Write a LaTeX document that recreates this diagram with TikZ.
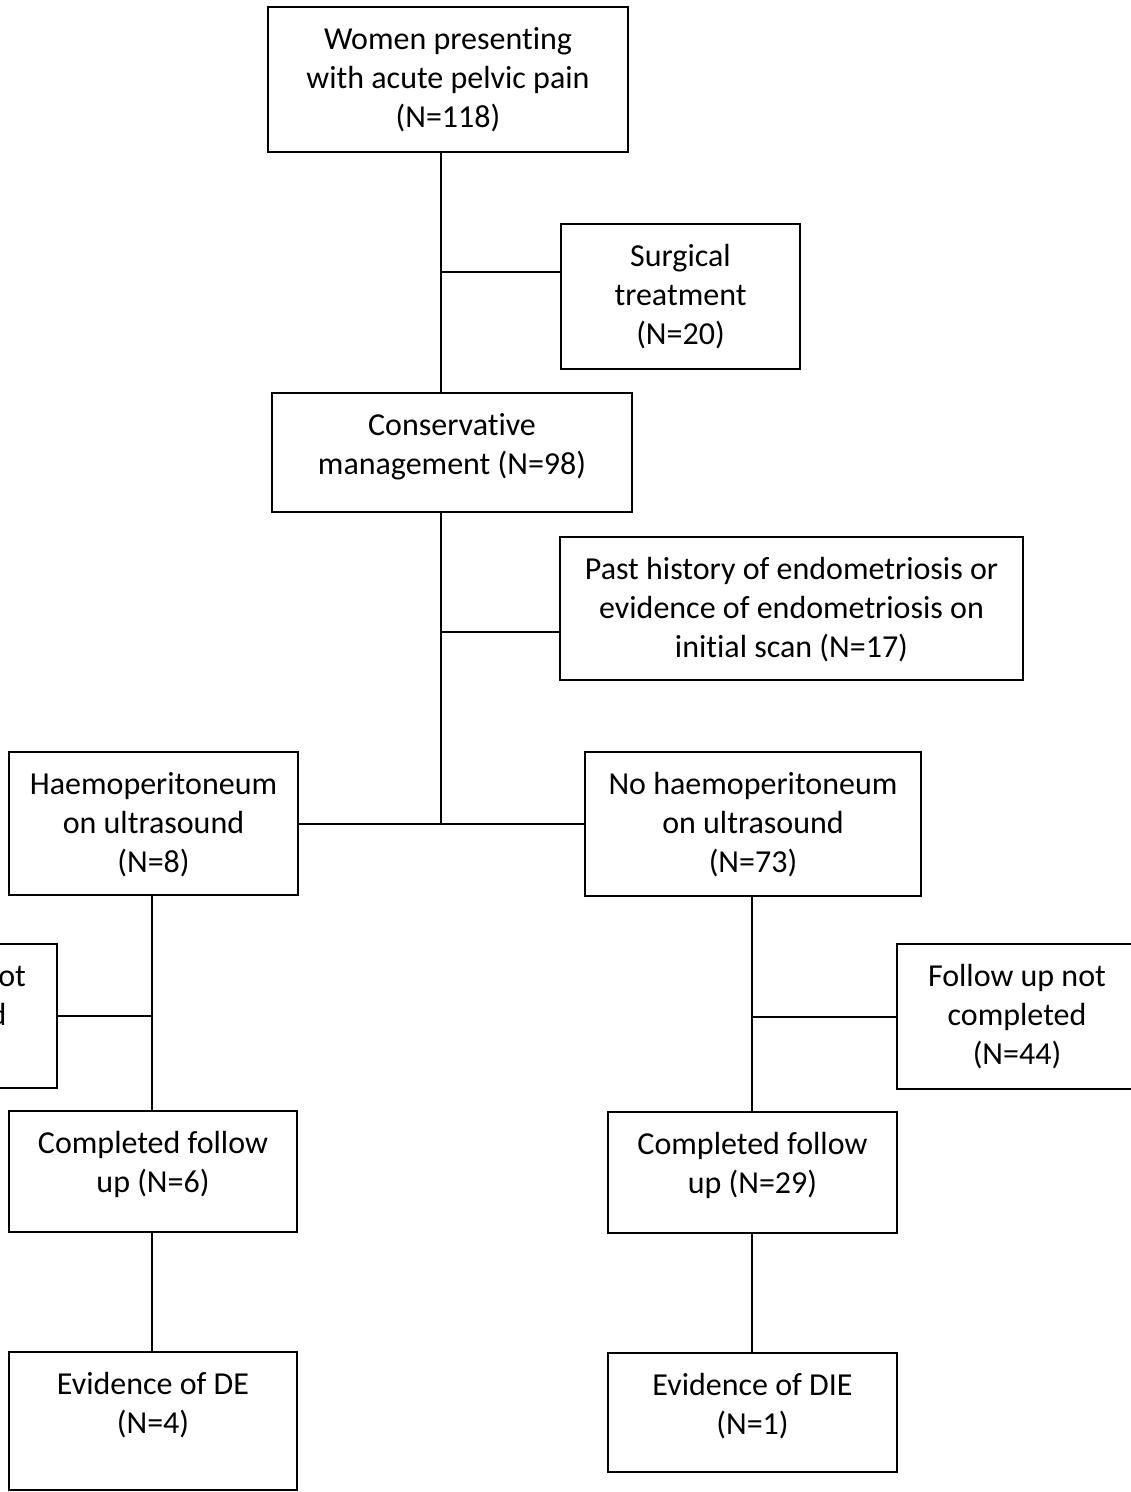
\documentclass[tikz,border=0pt]{standalone}
\usepackage{fontspec}
\setmainfont{Carlito}[Ligatures={NoCommon}]
\begin{document}
\begin{tikzpicture}[x=1pt,y=-1pt,
  box/.style={draw=black, line width=1.8pt, rectangle, inner sep=0pt, outer sep=0pt},
  txt/.style={anchor=north, inner sep=0pt, align=center, font=\fontsize{32}{39}\selectfont},
  conn/.style={draw=black, line width=1.3pt}]
\useasboundingbox (0,0) rectangle (1131,1492);
\clip (0,0) rectangle (1131,1492);
% boxes
\node[box, minimum width=360pt, minimum height=145pt] (A) at (448,79.5) {};
\node[box, minimum width=239pt, minimum height=145pt] (B) at (680.5,296.5) {};
\node[box, minimum width=360pt, minimum height=119pt] (C) at (452,452.5) {};
\node[box, minimum width=463pt, minimum height=143pt] (D) at (791.5,608.5) {};
\node[box, minimum width=289pt, minimum height=143pt] (E) at (153.5,823.5) {};
\node[box, minimum width=336pt, minimum height=144pt] (F) at (753,824) {};
\node[box, minimum width=240pt, minimum height=144pt] (G) at (-63,1016) {};
\node[box, minimum width=240pt, minimum height=145pt] (J) at (1017,1016.5) {};
\node[box, minimum width=288pt, minimum height=121pt] (H) at (153,1171.5) {};
\node[box, minimum width=289pt, minimum height=121pt] (K) at (752.5,1172.5) {};
\node[box, minimum width=288pt, minimum height=138pt] (I) at (153,1421) {};
\node[box, minimum width=289pt, minimum height=119pt] (L) at (752.5,1412.5) {};
% texts
\node[txt] (tA) at ([yshift=-14.7pt]A.north) {\strut Women presenting\\with acute pelvic pain\\(N=118)};
\node[txt] (tB) at ([yshift=-14.7pt]B.north) {\strut Surgical\\treatment\\(N=20)};
\node[txt] (tC) at ([yshift=-14.7pt]C.north) {\strut Conservative\\management (N=98)};
\node[txt] (tD) at ([yshift=-14.7pt]D.north) {\strut Past history of endometriosis or\\evidence of endometriosis on\\initial scan (N=17)};
\node[txt] (tE) at ([yshift=-14.7pt]E.north) {\strut Haemoperitoneum\\on ultrasound\\(N=8)};
\node[txt] (tF) at ([yshift=-14.7pt]F.north) {\strut No haemoperitoneum\\on ultrasound\\(N=73)};
\node[txt] (tG) at ([yshift=-14.7pt]G.north) {\strut Follow up not\\completed};
\node[txt] (tJ) at ([yshift=-14.7pt]J.north) {\strut Follow up not\\completed\\(N=44)};
\node[txt] (tH) at ([yshift=-14.7pt]H.north) {\strut Completed follow\\up (N=6)};
\node[txt] (tK) at ([yshift=-14.7pt]K.north) {\strut Completed follow\\up (N=29)};
\node[txt] (tI) at ([yshift=-14.7pt]I.north) {\strut Evidence of DE\\(N=4)};
\node[txt] (tL) at ([yshift=-14.7pt]L.north) {\strut Evidence of DIE\\(N=1)};
% junctions
\coordinate (j1) at (441,272);
\coordinate (j2) at (441,632);
\coordinate (j3) at (441,824);
\coordinate (j4) at (152,1016);
\coordinate (j5) at (752,1017);
% connectors
\draw[conn] (A.south -| j1) -- (C.north -| j1);
\draw[conn] (j1) -- (j1 -| B.west);
\draw[conn] (C.south -| j2) -- (j3);
\draw[conn] (j2) -- (j2 -| D.west);
\draw[conn] (j3 -| E.east) -- (j3 -| F.west);
\draw[conn] (E.south -| j4) -- (H.north -| j4);
\draw[conn] (j4) -- (j4 -| G.east);
\draw[conn] (H.south -| j4) -- (I.north -| j4);
\draw[conn] (F.south -| j5) -- (K.north -| j5);
\draw[conn] (j5) -- (j5 -| J.west);
\draw[conn] (K.south -| j5) -- (L.north -| j5);
\end{tikzpicture}
\end{document}
